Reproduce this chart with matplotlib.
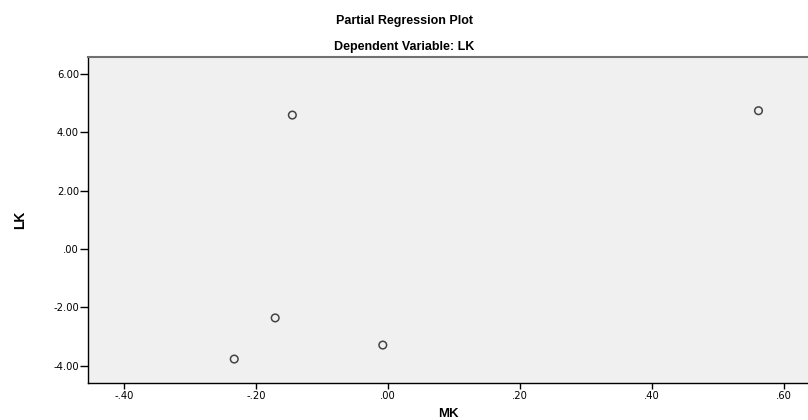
import matplotlib
matplotlib.use("Agg")
import matplotlib.pyplot as plt
from matplotlib.ticker import FuncFormatter

plt.rcParams['font.family'] = ['Liberation Sans', 'DejaVu Sans']

# partial residuals
mk = [-0.145, 0.561, -0.171, -0.233, -0.008]
lk = [4.59, 4.74, -2.36, -3.77, -3.29]

x_ticks = [-0.40, -0.20, 0.00, 0.20, 0.40, 0.60]
y_ticks = [-4.0, -2.0, 0.0, 2.0, 4.0, 6.0]


def spss_fmt(v, pos=None):
    s = f"{v:.2f}"
    if s.startswith("0."):
        s = s[1:]
    elif s.startswith("-0."):
        s = "-" + s[2:]
    if s == "-.00":
        s = ".00"
    return s


fig = plt.figure(figsize=(8.08, 4.2), dpi=100)
ax = fig.add_axes([88 / 808, 37 / 420, 720 / 808, 326 / 420])
ax.set_facecolor("#f0f0f0")

ax.scatter(mk, lk, s=30, facecolors="none", edgecolors="#444444", linewidths=1.1, zorder=3)

ax.set_xlim(-0.4545, 0.636)
ax.set_ylim(-4.59, 6.58)
ax.set_xticks(x_ticks)
ax.set_yticks(y_ticks)
ax.xaxis.set_major_formatter(FuncFormatter(spss_fmt))
ax.yaxis.set_major_formatter(FuncFormatter(spss_fmt))
ax.tick_params(axis="y", direction="out", length=6, width=1, labelsize=7.2, pad=0.5, colors="black")
ax.tick_params(axis="x", direction="out", length=4.3, width=1, labelsize=7.2, pad=1.5, colors="black")
for lab in ax.get_xticklabels() + ax.get_yticklabels():
    lab.set_family("DejaVu Sans")

for side in ["left", "bottom"]:
    ax.spines[side].set_color("black")
    ax.spines[side].set_linewidth(1)
ax.spines["top"].set_color("#707070")
ax.spines["top"].set_linewidth(1.5)
ax.spines["right"].set_visible(False)

ax.set_xlabel("MK", fontsize=9.5, fontweight="bold")
ax.set_ylabel("LK", fontsize=10, fontweight="bold")
ax.xaxis.set_label_coords(0.5, -25 / 326, transform=ax.transAxes)
ax.yaxis.set_label_coords(-61 / 720, 0.5, transform=ax.transAxes)

fig.text(0.5, 1 - 21 / 420, "Partial Regression Plot", ha="center", va="center",
         fontsize=9, fontweight="bold")
fig.text(0.5, 1 - 47 / 420, "Dependent Variable: LK", ha="center", va="center",
         fontsize=9, fontweight="bold")

fig.savefig("out.png", dpi=100)
